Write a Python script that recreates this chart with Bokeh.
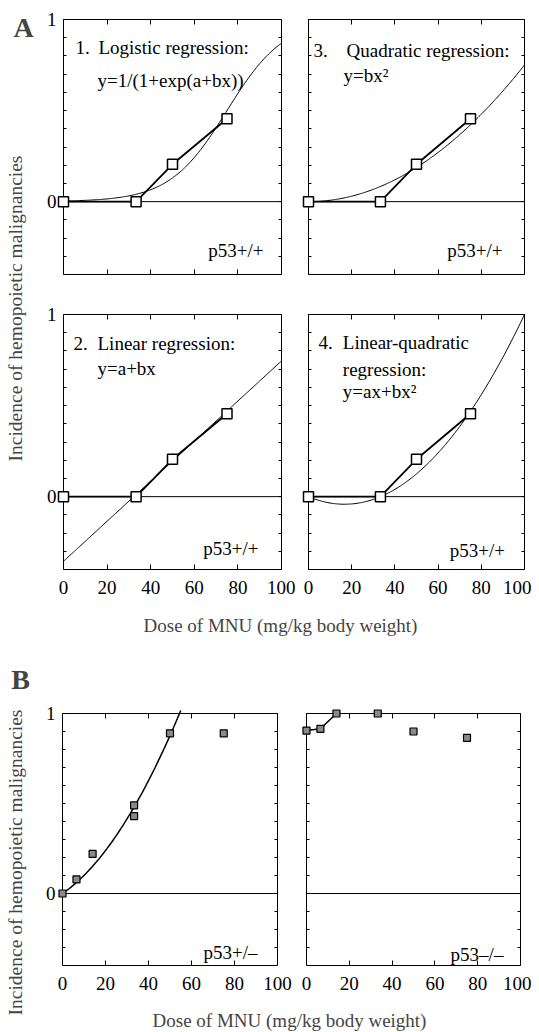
import numpy as np
from bokeh.plotting import figure
from bokeh.models import Range1d, FixedTicker, LinearAxis, Span, Label
from bokeh.layouts import row, column
from bokeh.embed import file_html
from bokeh.resources import INLINE

# ---------------- data ----------------
# Panel A: p53+/+ mice
dose_wt = [0, 33.3, 50, 75]
inc_wt = [0.0, 0.0, 0.205, 0.455]

# Panel B: p53+/- and p53-/- mice
dose_het = [0, 6.5, 14, 33.3, 33.3, 50, 75]
inc_het = [0.0, 0.078, 0.22, 0.49, 0.43, 0.89, 0.89]
dose_null = [0, 6.5, 14, 33.3, 50, 75]
inc_null = [0.905, 0.915, 1.0, 1.0, 0.90, 0.865]

# regression model parameters
logit_a, logit_b = 5.7, -0.076       # y = 1/(1+exp(a+bx))
lin_a, lin_b = -0.355, 0.011         # y = a + bx
quad_b = 7.5e-5                      # y = bx^2
lq_a, lq_b = -0.005, 1.5e-4          # y = ax + bx^2
het_a, het_b = 0.0082, 0.000187      # p53+/- fit, y = ax + bx^2
het_fit_max = 55

x_ticks = [0, 20, 40, 60, 80, 100]
y_major = [0, 1]
y_minor = [-0.3, -0.2, -0.1, 0.1, 0.2, 0.3, 0.4, 0.5, 0.6, 0.7, 0.8, 0.9]

FONT = "Liberation Serif"
FS = "19px"


def base_axis(ax):
    ax.axis_line_color = None
    ax.major_tick_out = 0
    ax.minor_tick_out = 0
    ax.major_tick_line_color = "black"
    ax.minor_tick_line_color = "black"
    ax.axis_label = None


def labelled_axis(ax, ticker, standoff, tick_in, minor_in):
    base_axis(ax)
    ax.ticker = ticker
    ax.major_tick_in = tick_in
    ax.minor_tick_in = minor_in
    ax.major_label_text_font = FONT
    ax.major_label_text_font_size = FS
    ax.major_label_text_color = "black"
    ax.major_label_standoff = standoff


def bare_axis(ax, tick_list, tick_in):
    # ticks only: every tick is a minor tick, so no labels are drawn
    base_axis(ax)
    ax.ticker = FixedTicker(ticks=[], minor_ticks=tick_list)
    ax.major_tick_in = 0
    ax.minor_tick_in = tick_in
    ax.major_label_standoff = 0


def panel(width, height, bl, br, bt, bb, xlabels, ylabels):
    p = figure(width=width, height=height, x_range=Range1d(0, 100),
               y_range=Range1d(-0.4, 1.0), output_backend="svg",
               toolbar_location=None, min_border_left=bl, min_border_right=br,
               min_border_top=bt, min_border_bottom=bb)
    p.grid.visible = False
    p.outline_line_color = "black"
    p.outline_line_width = 1
    p.outline_line_alpha = 1
    p.background_fill_color = "white"
    p.border_fill_color = "white"
    if xlabels:
        labelled_axis(p.xaxis[0], FixedTicker(ticks=x_ticks), 11, 5, 0)
    else:
        bare_axis(p.xaxis[0], x_ticks, 5)
    if ylabels:
        labelled_axis(p.yaxis[0], FixedTicker(ticks=y_major, minor_ticks=y_minor), 7, 4, 3)
        p.yaxis[0].major_label_overrides = {0: "0", 1: "1"}
    else:
        bare_axis(p.yaxis[0], y_major + y_minor, 3)
    top = LinearAxis()
    bare_axis(top, x_ticks, 5)
    p.add_layout(top, "above")
    right = LinearAxis()
    bare_axis(right, y_major + y_minor, 3)
    p.add_layout(right, "right")
    p.add_layout(Span(location=0, dimension="width", line_color="black", line_width=1))
    return p


def txt(p, x, y, s, align="left"):
    p.add_layout(Label(x=x, y=y, text=s, text_font=FONT, text_font_size=FS,
                       text_align=align, text_baseline="middle", text_color="black"))


def wt_points(p):
    p.line(dose_wt, inc_wt, line_color="black", line_width=1.8)
    r = p.scatter(dose_wt, inc_wt, marker="square", size=10, fill_color="white",
                  line_color="black", line_width=1.5)
    r.level = "overlay"


xs = np.linspace(0, 100, 201)

# ---- A1 logistic ----
pA1 = panel(255, 294, 23, 14, 19, 20, False, True)
pA1.line(xs, 1.0 / (1.0 + np.exp(logit_a + logit_b * xs)), line_color="black", line_width=1)
wt_points(pA1)
txt(pA1, 5.5, 0.846, "1.")
txt(pA1, 16, 0.846, "Logistic regression:")
txt(pA1, 15.6, 0.665, "y=1/(1+exp(a+bx))")
txt(pA1, 91.7, -0.27, "p53+/+", "right")

# ---- A3 quadratic ----
pA3 = panel(236, 294, 13, 7, 19, 20, False, False)
pA3.line(xs, quad_b * xs ** 2, line_color="black", line_width=1)
wt_points(pA3)
txt(pA3, 2.3, 0.83, "3.")
txt(pA3, 17.6, 0.83, "Quadratic regression:")
txt(pA3, 16.2, 0.69, "y=bx\u00b2")
txt(pA3, 89.8, -0.27, "p53+/+", "right")

# ---- A2 linear ----
pA2 = panel(255, 308, 23, 14, 20, 33, True, True)
pA2.line(xs, lin_a + lin_b * xs, line_color="black", line_width=1)
wt_points(pA2)
txt(pA2, 4.6, 0.84, "2.")
txt(pA2, 15.6, 0.84, "Linear regression:")
txt(pA2, 15.6, 0.703, "y=a+bx")
txt(pA2, 89.4, -0.286, "p53+/+", "right")

# ---- A4 linear-quadratic ----
pA4 = panel(236, 308, 13, 7, 20, 33, True, False)
pA4.line(xs, lq_a * xs + lq_b * xs ** 2, line_color="black", line_width=1)
wt_points(pA4)
txt(pA4, 4.6, 0.846, "4.")
txt(pA4, 15.9, 0.846, "Linear-quadratic")
txt(pA4, 15.9, 0.70, "regression:")
txt(pA4, 15.9, 0.577, "y=ax+bx\u00b2")
txt(pA4, 91, -0.297, "p53+/+", "right")

# ---- B1 p53+/- ----
pB1 = panel(255, 360, 22, 18, 73, 35, True, True)
xh = np.linspace(0, het_fit_max, 111)
lr = pB1.line(xh, het_a * xh + het_b * xh ** 2, line_color="black", line_width=1.5)
lr.level = "overlay"
rb1 = pB1.scatter(dose_het, inc_het, marker="square", size=7, fill_color="#8a8a8a",
                  line_color="black", line_width=1.2)
rb1.level = "overlay"
txt(pB1, 90.7, -0.33, "p53+/\u2013", "right")

# ---- B2 p53-/- ----
pB2 = panel(236, 360, 11, 11, 73, 35, True, False)
pB2.line(dose_null[:3], inc_null[:3], line_color="black", line_width=1.5)
rb2 = pB2.scatter(dose_null, inc_null, marker="square", size=7, fill_color="#8a8a8a",
                  line_color="black", line_width=1.2)
rb2.level = "overlay"
txt(pB2, 92, -0.34, "p53\u2013/\u2013", "right")


def blank(w, h):
    f = figure(width=w, height=h, x_range=Range1d(0, w), y_range=Range1d(0, h),
               output_backend="svg", toolbar_location=None, min_border=0,
               x_axis_type=None, y_axis_type=None)
    f.grid.visible = False
    f.outline_line_color = None
    f.background_fill_color = "white"
    f.border_fill_color = "white"
    return f


YTITLE = "Incidence of hemopoietic malignancies"
XTITLE = "Dose of MNU (mg/kg body weight)"

labA = blank(40, 602)
labA.add_layout(Label(x=23, y=575, text="A", text_font=FONT, text_font_size="28px",
                      text_font_style="bold", text_align="center", text_baseline="middle"))
labA.add_layout(Label(x=15, y=294, text=YTITLE, text_font=FONT, text_font_size="19.5px",
                      angle=np.pi / 2, text_align="center", text_baseline="middle"))

titleA = blank(531, 38)
titleA.add_layout(Label(x=280, y=15, text=XTITLE, text_font=FONT, text_font_size=FS,
                        text_align="center", text_baseline="middle"))

labB = blank(40, 392)
labB.add_layout(Label(x=20, y=353, text="B", text_font=FONT, text_font_size="28px",
                      text_font_style="bold", text_align="center", text_baseline="middle"))
labB.add_layout(Label(x=15, y=170, text=YTITLE, text_font=FONT, text_font_size="19.5px",
                      angle=np.pi / 2, text_align="center", text_baseline="middle"))

titleB = blank(491, 32)
titleB.add_layout(Label(x=249, y=12, text=XTITLE, text_font=FONT, text_font_size=FS,
                        text_align="center", text_baseline="middle"))

layout = column(
    row(labA, column(row(pA1, pA3), row(pA2, pA4))),
    titleA,
    row(labB, column(row(pB1, pB2), titleB)),
)

open("out.html", "w").write(file_html(layout, INLINE))
